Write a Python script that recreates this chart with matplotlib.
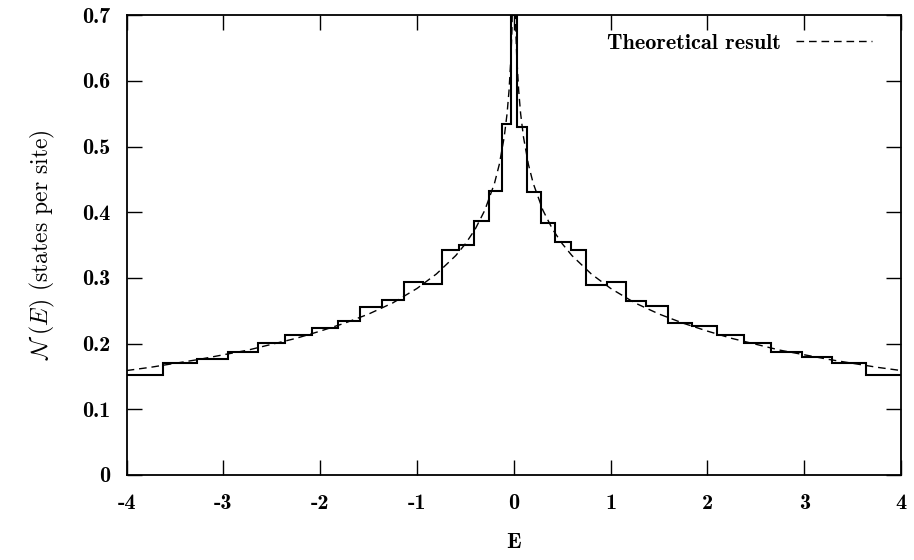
import matplotlib
matplotlib.use('Agg')
import matplotlib.pyplot as plt

plt.rcParams['mathtext.fontset'] = 'cm'
plt.rcParams['axes.unicode_minus'] = False

# histogram (bin edges and heights)
bin_edges = [-4.0, -3.62, -3.27, -2.955, -2.64, -2.36, -2.09, -1.82, -1.585, -1.36,
             -1.14, -0.94, -0.74, -0.57, -0.41, -0.26, -0.125, -0.03,
             0.035, 0.14, 0.28, 0.42, 0.59, 0.75, 0.96, 1.16, 1.37, 1.59,
             1.84, 2.10, 2.38, 2.66, 2.98, 3.29, 3.64, 4.0]
bin_heights = [0.152, 0.171, 0.177, 0.187, 0.201, 0.213, 0.224, 0.235, 0.255,
               0.267, 0.294, 0.290, 0.343, 0.350, 0.387, 0.432, 0.534,
               0.700,
               0.529, 0.431, 0.384, 0.354, 0.342, 0.289, 0.294, 0.265, 0.257,
               0.232, 0.227, 0.213, 0.201, 0.187, 0.180, 0.171, 0.152]

# dashed theoretical curve
theory_E = [-4.0, -3.75, -3.5, -3.25, -3.0, -2.75, -2.5, -2.25, -2.0, -1.75,
            -1.5, -1.25, -1.0, -0.8, -0.6, -0.5, -0.4, -0.3, -0.2, -0.15,
            -0.1, -0.07, -0.05, -0.03, -0.02, -0.01,
            0.01, 0.02, 0.03, 0.05, 0.07, 0.1, 0.15, 0.2, 0.3, 0.4, 0.5,
            0.6, 0.8, 1.0, 1.25, 1.5, 1.75, 2.0, 2.25, 2.5, 2.75, 3.0,
            3.25, 3.5, 3.75, 4.0]
theory_N = [0.159, 0.164, 0.170, 0.176, 0.183, 0.190, 0.199, 0.208, 0.219, 0.231,
            0.245, 0.262, 0.284, 0.306, 0.334, 0.352, 0.374, 0.403, 0.444, 0.473,
            0.514, 0.550, 0.585, 0.636, 0.677, 0.748,
            0.748, 0.677, 0.636, 0.585, 0.550, 0.514, 0.473, 0.444, 0.403, 0.374, 0.352,
            0.334, 0.306, 0.284, 0.262, 0.245, 0.231, 0.219, 0.208, 0.199, 0.190, 0.183,
            0.176, 0.170, 0.164, 0.159]

x_ticks = [-4, -3, -2, -1, 0, 1, 2, 3, 4]
x_tick_labels = ['-4', '-3', '-2', '-1', '0', '1', '2', '3', '4']
y_ticks = [0, 0.1, 0.2, 0.3, 0.4, 0.5, 0.6, 0.7]
y_tick_labels = ['0', '0.1', '0.2', '0.3', '0.4', '0.5', '0.6', '0.7']

fs = 16

fig = plt.figure(figsize=(9.14, 5.6), dpi=100)
ax = fig.add_axes([0.1386, 0.1518, 0.9858 - 0.1386, 0.973 - 0.1518])

ax.stairs(bin_heights, bin_edges, baseline=None, color='black', linewidth=1.5)
ax.plot(theory_E, theory_N, color='black', linewidth=1.0, dashes=(5.5, 3.5),
        label='Theoretical result')

ax.set_xlim(-4, 4)
ax.set_ylim(0, 0.7)
ax.set_xticks(x_ticks)
ax.set_xticklabels(x_tick_labels, fontfamily='cmb10', fontsize=fs)
ax.set_yticks(y_ticks)
ax.set_yticklabels(y_tick_labels, fontfamily='cmb10', fontsize=fs)
ax.tick_params(direction='in', length=11, width=1.0, top=True, right=True)
ax.tick_params(axis='x', pad=14)
ax.tick_params(axis='y', pad=12)
for sp in ax.spines.values():
    sp.set_linewidth(1.3)

ax.set_xlabel('E', fontfamily='cmb10', fontsize=fs, labelpad=14)
ax.set_ylabel(r'$\mathcal{N}\;(E)$ (states per site)', fontfamily='cmr10',
              fontsize=17, labelpad=18)

leg = ax.legend(loc='center right', bbox_to_anchor=(0.9625, 0.939),
                frameon=False, markerfirst=False, borderpad=0, borderaxespad=0,
                handlelength=3.4, handletextpad=0.7,
                prop={'family': 'cmb10', 'size': fs})

fig.savefig('out.png', dpi=100)
